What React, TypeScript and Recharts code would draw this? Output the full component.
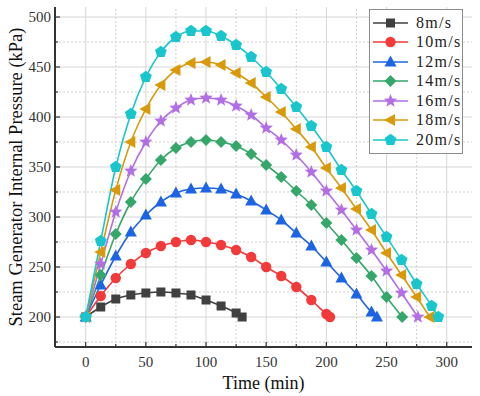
import { Legend, Line, LineChart, ReferenceLine, XAxis, YAxis } from 'recharts';

const speeds = ['8m/s', '10m/s', '12m/s', '14m/s', '16m/s', '18m/s', '20m/s'];
const colors = ['#404040', '#f23a3a', '#1d64e4', '#35a76a', '#b26ee4', '#d89a0b', '#19c6ce'];
const markers = ['square', 'circle', 'triangle', 'diamond', 'star', 'left', 'pentagon'];

// sampling every 12.5 min, last point of each run is where it is back to 200 kPa
const stepTimes = [
  0, 12.5, 25, 37.5, 50, 62.5, 75, 87.5, 100, 112.5, 125, 137.5, 150, 162.5, 175, 187.5, 200, 212.5,
  225, 237.5, 250, 262.5, 275, 287.5,
];
const endTimes = [130, 203, 242, 263, 276, 286, 293];

const p8 = [200, 210, 218, 222, 224, 225, 224, 222, 217, 211, 204, 200];
const p10 = [200, 221, 239, 253, 264, 271, 275, 277, 275, 272, 267, 260, 250, 241, 230, 217, 203, 200];
const p12 = [200, 232, 261, 285, 302, 315, 324, 328, 329, 328, 323, 316, 307, 297, 284, 271, 255, 239, 223, 205, 200];
const p14 = [200, 242, 283, 315, 338, 357, 369, 375, 377, 375, 371, 363, 352, 340, 326, 312, 294, 277, 259, 241, 220, 200];
const p16 = [200, 253, 305, 346, 375, 396, 409, 417, 419, 417, 411, 402, 389, 377, 362, 345, 326, 307, 287, 267, 246, 224, 200];
const p18 = [200, 265, 327, 375, 408, 432, 447, 454, 455, 452, 444, 434, 420, 405, 388, 370, 349, 329, 308, 287, 264, 242, 220, 200];
const p20 = [200, 276, 350, 403, 440, 465, 480, 486, 486, 481, 472, 460, 445, 428, 410, 391, 370, 347, 326, 303, 280, 257, 233, 211, 200];
const pressures = [p8, p10, p12, p14, p16, p18, p20];

const xMajor = [0, 50, 100, 150, 200, 250, 300];
const xMinor = [25, 75, 125, 175, 225, 275];
const yMajor = [200, 250, 300, 350, 400, 450, 500];
const yMinor = [175, 225, 275, 325, 375, 425, 475];
const xTicks = [...xMajor, ...xMinor].sort((a, b) => a - b);
const yTicks = [...yMajor, ...yMinor].sort((a, b) => a - b);

const series = pressures.map((vals, i) => ({
  name: speeds[i],
  color: colors[i],
  marker: markers[i],
  data: vals.map((v, j) => ({ t: j < vals.length - 1 ? stepTimes[j] : endTimes[i], v })),
}));

const FONT = '"Liberation Serif", "Times New Roman", serif';
const AXIS = '#333';

const Marker = ({ cx, cy, kind, color }: any) => {
  if (cx == null || cy == null) return null;
  const poly = (pts: number[][]) => (
    <polygon points={pts.map((p) => `${cx + p[0]},${cy + p[1]}`).join(' ')} fill={color} />
  );
  const ring = (n: number, r1: number, r2: number) => {
    const pts: number[][] = [];
    for (let k = 0; k < n * (r2 ? 2 : 1); k++) {
      const r = r2 && k % 2 ? r2 : r1;
      const a = -Math.PI / 2 + (k * Math.PI * 2) / (n * (r2 ? 2 : 1));
      pts.push([r * Math.cos(a), r * Math.sin(a)]);
    }
    return poly(pts);
  };
  switch (kind) {
    case 'square':
      return <rect x={cx - 4.5} y={cy - 4.5} width={9} height={9} fill={color} />;
    case 'circle':
      return <circle cx={cx} cy={cy} r={5.2} fill={color} />;
    case 'triangle':
      return poly([[0, -6.5], [6, 4.5], [-6, 4.5]]);
    case 'diamond':
      return poly([[0, -6], [6, 0], [0, 6], [-6, 0]]);
    case 'star':
      return ring(5, 7, 3);
    case 'left':
      return poly([[-6.5, 0], [4.5, -6], [4.5, 6]]);
    default:
      return ring(5, 6.2, 0);
  }
};

const tickText = { fontFamily: FONT, fontSize: 15, fill: '#333' };

const BottomTick = ({ x, y, payload }: any) => {
  const major = xMajor.includes(payload.value);
  return (
    <g>
      <line x1={x} x2={x} y1={y - 14} y2={y - 14 - (major ? 5 : 3)} stroke={AXIS} strokeWidth={1.2} />
      {major && (
        <text x={x} y={y + 6} textAnchor="middle" {...tickText}>
          {payload.value}
        </text>
      )}
    </g>
  );
};

const TopTick = ({ x, y, payload }: any) => {
  const major = xMajor.includes(payload.value);
  return <line x1={x} x2={x} y1={y} y2={y + (major ? 5 : 3)} stroke={AXIS} strokeWidth={1.2} />;
};

const LeftTick = ({ x, y, payload }: any) => {
  const major = yMajor.includes(payload.value);
  return (
    <g>
      <line x1={x + 4} x2={x + 4 + (major ? 5 : 3)} y1={y} y2={y} stroke={AXIS} strokeWidth={1.2} />
      {major && (
        <text x={x} y={y + 5} textAnchor="end" {...tickText}>
          {payload.value}
        </text>
      )}
    </g>
  );
};

const RightTick = ({ x, y, payload }: any) => {
  const major = yMajor.includes(payload.value);
  return <line x1={x} x2={x - (major ? 5 : 3)} y1={y} y2={y} stroke={AXIS} strokeWidth={1.2} />;
};

const LegendBox = () => (
  <div
    style={{
      border: '1px solid #8c8c8c',
      background: '#fff',
      padding: '3px 0 3px 2px',
      fontFamily: FONT,
      fontSize: 16,
      letterSpacing: 1.3,
      color: '#222',
    }}
  >
    {series.map((s) => (
      <div key={s.name} style={{ display: 'flex', alignItems: 'center', height: 19.5 }}>
        <svg width={42} height={16} style={{ flex: 'none' }}>
          <line x1={1} x2={36} y1={8} y2={8} stroke={s.color} strokeWidth={1.6} />
          <Marker cx={18.5} cy={8} kind={s.marker} color={s.color} />
        </svg>
        <span style={{ marginLeft: 2 }}>{s.name}</span>
      </div>
    ))}
  </div>
);

export default function App() {
  return (
    <div style={{ position: 'absolute', left: 0, top: 0, background: '#fff' }}>
      <LineChart width={480} height={396} margin={{ top: 7, right: 8, bottom: 0, left: 0 }}>
        {xMinor.map((v) => (
          <ReferenceLine key={'xm' + v} x={v} stroke="#cfcfcf" strokeDasharray="2 2" />
        ))}
        {yMinor.map((v) => (
          <ReferenceLine key={'ym' + v} y={v} stroke="#cfcfcf" strokeDasharray="2 2" />
        ))}
        {xMajor.map((v) => (
          <ReferenceLine key={'xM' + v} x={v} stroke="#d6d6d6" />
        ))}
        {yMajor.map((v) => (
          <ReferenceLine key={'yM' + v} y={v} stroke="#d6d6d6" />
        ))}
        <XAxis
          dataKey="t"
          type="number"
          domain={[-25.5, 321]}
          allowDataOverflow
          ticks={xTicks}
          interval={0}
          height={49}
          tickSize={0}
          tickMargin={14}
          tick={<BottomTick />}
          axisLine={{ stroke: AXIS, strokeWidth: 2 }}
          label={{
            value: 'Time (min)',
            position: 'insideBottom',
            offset: 7,
            style: { fontFamily: FONT, fontSize: 18, fill: '#111' },
          }}
        />
        <XAxis
          xAxisId="top"
          orientation="top"
          type="number"
          domain={[-25.5, 321]}
          allowDataOverflow
          ticks={xTicks}
          interval={0}
          height={0}
          tickSize={0}
          tickMargin={0}
          tick={<TopTick />}
          axisLine={{ stroke: AXIS, strokeWidth: 2 }}
        />
        <YAxis
          type="number"
          domain={[170, 510]}
          allowDataOverflow
          ticks={yTicks}
          interval={0}
          width={55}
          tickSize={0}
          tickMargin={4}
          tick={<LeftTick />}
          axisLine={{ stroke: AXIS, strokeWidth: 2 }}
          label={{
            value: 'Steam Generator Internal Pressure (kPa)',
            angle: -90,
            position: 'center',
            dx: -12,
            style: { fontFamily: FONT, fontSize: 18.5, fill: '#111' },
          }}
        />
        <YAxis
          yAxisId="right"
          orientation="right"
          type="number"
          domain={[170, 510]}
          allowDataOverflow
          ticks={yTicks}
          interval={0}
          width={0}
          tickSize={0}
          tickMargin={0}
          tick={<RightTick />}
          axisLine={{ stroke: AXIS, strokeWidth: 2 }}
        />
        {series.map((s) => (
          <Line
            key={s.name}
            data={s.data}
            dataKey="v"
            name={s.name}
            type="monotone"
            stroke={s.color}
            strokeWidth={1.6}
            isAnimationActive={false}
            dot={(p: any) => <Marker key={s.name + p.index} cx={p.cx} cy={p.cy} kind={s.marker} color={s.color} />}
            activeDot={false}
          />
        ))}
        <Legend
          layout="vertical"
          align="center"
          verticalAlign="middle"
          wrapperStyle={{ left: 369, top: 9, width: 94, height: 'auto' }}
          content={<LegendBox />}
        />
      </LineChart>
    </div>
  );
}
